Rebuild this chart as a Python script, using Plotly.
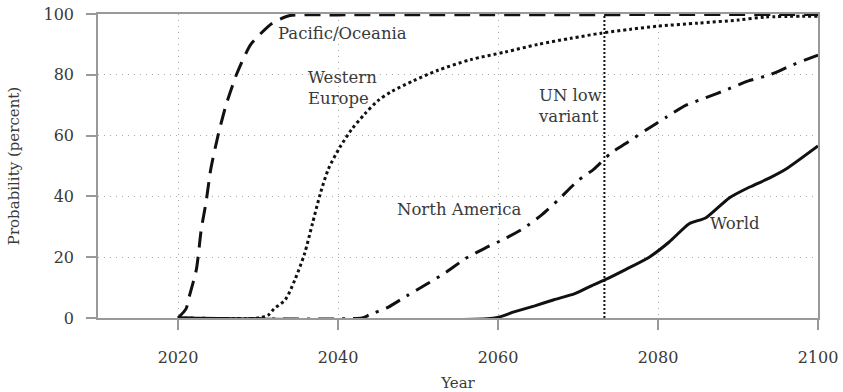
import plotly.graph_objects as go

# Probability that population peaks before a given year, by region
pacific_years = [2020, 2021, 2021.4, 2022.3, 2022.9, 2023.5, 2024.1, 2025, 2026, 2027.3,
                 2029.1, 2031.8, 2034, 2040, 2100]
pacific = [0, 3, 7, 16, 29, 38, 49, 60, 70, 80, 90, 97, 99.5, 99.7, 99.8]

weurope_years = [2020, 2030, 2031.3, 2032, 2033.4, 2034.6, 2035.8, 2036.8, 2037.8, 2038.8,
                 2040.2, 2041.7, 2043.3, 2045, 2046.7, 2049.4, 2052.5, 2056.6, 2060.9, 2065,
                 2069.1, 2072.9, 2076.6, 2080, 2085, 2090, 2093.4, 2100]
weurope = [0, 0, 1, 3, 6, 12.5, 21, 31, 41, 49, 56, 62, 67, 71.5, 74.5, 78, 81.5, 85, 87.5, 90,
           92, 93.7, 95, 96, 97, 98, 99, 99.3]

namerica_years = [2020, 2043, 2043.9, 2046.3, 2048.8, 2051, 2053.5, 2055.9, 2058.4, 2060.8,
                  2063.2, 2065.5, 2067.6, 2069.9, 2072, 2074, 2076.3, 2078.6, 2081, 2083.5,
                  2086, 2088.5, 2091.3, 2094, 2096.6, 2099, 2100]
namerica = [0, 0, 1, 3.6, 7.6, 11, 15, 19.5, 23, 26, 29.5, 34, 39, 45, 49, 54, 58, 62, 66, 70,
            72.5, 75, 78, 80, 83, 85.5, 86.5]

world_years = [2020, 2059.6, 2062, 2064.6, 2067, 2069.6, 2072, 2073.4, 2076, 2078.9, 2081.4,
               2083.9, 2086, 2088.9, 2091.4, 2093.9, 2096, 2100]
world = [0, 0, 2, 4, 6, 8, 11, 12.6, 16, 20, 25, 31, 33, 39.5, 43, 46, 49, 56.6]

un_low_year = 2073.3

x_ticks = [2020, 2040, 2060, 2080, 2100]
y_ticks = [0, 20, 40, 60, 80, 100]

FONT = "DejaVu Serif"
INK = "#111111"
TEXT = "#3a3a3a"

fig = go.Figure()

fig.add_trace(go.Scatter(x=[un_low_year, un_low_year], y=[0, 100], mode="lines",
                         line=dict(color=INK, width=2, dash="2px,2px")))
fig.add_trace(go.Scatter(x=pacific_years, y=pacific, mode="lines",
                         line=dict(color=INK, width=3, dash="16px,9px", shape="spline",
                                   smoothing=0.6)))
fig.add_trace(go.Scatter(x=weurope_years, y=weurope, mode="lines",
                         line=dict(color=INK, width=3, dash="3px,3px", shape="spline",
                                   smoothing=0.8)))
fig.add_trace(go.Scatter(x=namerica_years, y=namerica, mode="lines",
                         line=dict(color=INK, width=3, dash="16px,8px,3px,8px",
                                   shape="spline", smoothing=0.5)))
fig.add_trace(go.Scatter(x=world_years, y=world, mode="lines",
                         line=dict(color=INK, width=3, shape="spline", smoothing=0.6)))

labels = [
    ("Pacific/Oceania", 2040.6, 93.7, "center"),
    ("Western<br>Europe", 2036.0, 75.5, "left"),
    ("UN low<br>variant", 2064.8, 69.8, "left"),
    ("North America", 2055.1, 35.8, "center"),
    ("World", 2089.6, 31.0, "center"),
]
for text, x, y, anchor in labels:
    fig.add_annotation(x=x, y=y, text=text, showarrow=False, xanchor=anchor,
                       yanchor="middle", align="left",
                       font=dict(family=FONT, size=16.5, color=TEXT))

axis_common = dict(
    showline=True, linecolor="#999999", linewidth=1.5, mirror=True,
    showgrid=True, gridcolor="#aaaaaa", griddash="1px,5px", gridwidth=1.2,
    zeroline=False, ticks="outside", tickcolor="#999999", tickwidth=1.5,
    tickfont=dict(family=FONT, size=16, color=TEXT), automargin=False,
)

fig.update_layout(
    width=843, height=392,
    margin=dict(l=98, r=25, t=14, b=74),
    paper_bgcolor="white", plot_bgcolor="white",
    showlegend=False,
    xaxis=dict(range=[2010, 2100], tickvals=x_ticks, ticklen=10, ticklabelstandoff=14,
               title=dict(text="Year", standoff=14,
                          font=dict(family=FONT, size=15, color=TEXT)),
               **axis_common),
    yaxis=dict(range=[0, 100], tickvals=y_ticks, ticklen=10, ticklabelstandoff=9,
               title=dict(text="Probability (percent)", standoff=20,
                          font=dict(family=FONT, size=15, color=TEXT)),
               **axis_common),
)

fig.write_html("out.html")
